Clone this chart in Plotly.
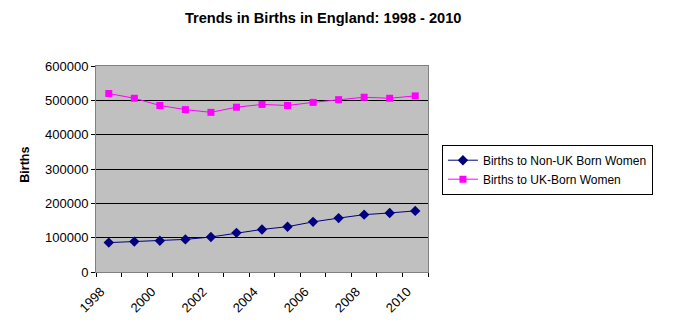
import plotly.graph_objects as go

years = [1998, 1999, 2000, 2001, 2002, 2003, 2004, 2005, 2006, 2007, 2008, 2009, 2010]
non_uk = [85600, 88500, 91000, 95000, 101900, 114000, 124000, 132000, 146000, 157000, 167000, 172000, 178000]
uk = [520000, 506000, 485000, 473000, 465000, 480000, 488000, 485000, 494000, 502000, 509000, 506000, 513000]
tick_years = [1998, 2000, 2002, 2004, 2006, 2008, 2010]
y_ticks = [0, 100000, 200000, 300000, 400000, 500000, 600000]

FONT = "Liberation Sans, Arial, sans-serif"

fig = go.Figure()
fig.add_trace(go.Scatter(
    x=years, y=non_uk, mode="lines+markers", name="Births to Non-UK Born Women",
    line=dict(color="#000080", width=1),
    marker=dict(symbol="diamond", size=8, color="#000080"),
))
fig.add_trace(go.Scatter(
    x=years, y=uk, mode="lines+markers", name="Births to UK-Born Women",
    line=dict(color="#FF00FF", width=1),
    marker=dict(symbol="square", size=7, color="#FF00FF"),
))

fig.update_layout(
    width=674, height=325,
    margin=dict(l=96, r=246, t=66, b=53),
    paper_bgcolor="white", plot_bgcolor="#C0C0C0",
    font=dict(family=FONT, size=12, color="black"),
    title=dict(text="<b>Trends in Births in England: 1998 - 2010</b>",
               x=0.4795, xanchor="center", y=0.945, yanchor="middle",
               font=dict(size=14.6, family=FONT)),
    legend=dict(x=1.042, y=0.618, xanchor="left", yanchor="top",
                bordercolor="black", borderwidth=1, bgcolor="white",
                font=dict(size=12, family=FONT), tracegroupgap=0),
    showlegend=True,
    annotations=[dict(text="<b>Births</b>", xref="paper", yref="paper",
                      x=-0.215, y=0.519, xanchor="center", yanchor="middle",
                      textangle=-90, showarrow=False,
                      font=dict(size=12.5, family=FONT))],
)
fig.update_xaxes(
    range=[1997.5, 2010.5], tickvals=tick_years, ticktext=[str(t) for t in tick_years],
    tickangle=-45, ticks="", showgrid=False, zeroline=False, automargin=False,
    showline=True, linecolor="#808080", linewidth=1, mirror=True,
    tickfont=dict(size=13, family=FONT),
    ticklabelshift=-8, ticklabelstandoff=6,
    minor=dict(tick0=1997.5, dtick=1, ticks="outside", ticklen=4, tickcolor="black", showgrid=False),
)
fig.update_yaxes(
    range=[0, 600000], tickvals=y_ticks, ticktext=[str(v) for v in y_ticks],
    ticks="outside", ticklen=4, tickcolor="black", automargin=False,
    showgrid=True, gridcolor="black", gridwidth=1, zeroline=False,
    showline=True, linecolor="#808080", linewidth=1, mirror=True,
    tickfont=dict(size=13, family=FONT),
)

fig.write_html("out.html")
